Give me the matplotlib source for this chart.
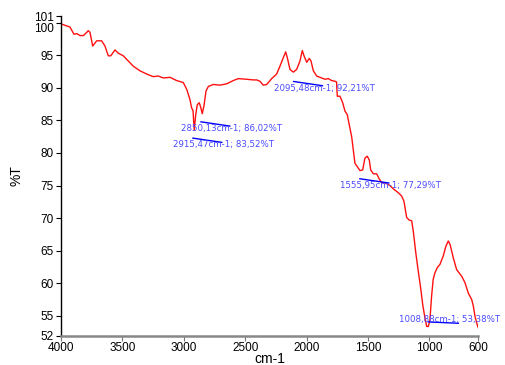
import numpy as np
import matplotlib
matplotlib.use('Agg')
import matplotlib.pyplot as plt

# IR spectrum, wavenumber (cm-1) vs transmittance (%T)
wavenumber = [4000, 3927, 3894, 3870, 3845, 3818, 3790, 3778, 3764, 3742,
              3709, 3669, 3642, 3615, 3595, 3560, 3533, 3493, 3452, 3411,
              3357, 3302, 3248, 3208, 3167, 3112, 3058, 3004, 2976, 2950,
              2936, 2925, 2915, 2902, 2890, 2874, 2862, 2850, 2836, 2819,
              2800, 2760, 2705, 2651, 2597, 2556, 2488, 2434, 2407, 2380,
              2353, 2325, 2284, 2244, 2217, 2190, 2170, 2157, 2135, 2108,
              2081, 2054, 2035, 2021, 1999, 1978, 1964, 1945, 1918, 1877,
              1850, 1823, 1796, 1769, 1756, 1750, 1728, 1706, 1687, 1669,
              1652, 1633, 1620, 1606, 1587, 1565, 1543, 1525, 1506, 1489,
              1478, 1456, 1429, 1408, 1389, 1348, 1321, 1294, 1253, 1226,
              1207, 1185, 1164, 1144, 1131, 1112, 1090, 1071, 1054, 1036,
              1022, 1009, 996, 982, 969, 955, 936, 914, 887, 865,
              846, 832, 805, 778, 737, 710, 683, 655, 642, 628,
              614, 606, 600]
transmittance = [99.8, 99.3, 98.2, 98.3, 98.0, 98.0, 98.5, 98.75, 98.5, 96.4,
                 97.2, 97.2, 96.4, 94.9, 94.9, 95.8, 95.3, 94.9, 94.1, 93.3,
                 92.6, 92.1, 91.7, 91.8, 91.5, 91.6, 91.1, 90.8, 89.75, 88.2,
                 86.9, 86.5, 83.52, 86.0, 87.4, 87.7, 87.0, 86.02, 87.2, 89.5,
                 90.2, 90.5, 90.4, 90.6, 91.1, 91.4, 91.3, 91.2, 91.2, 91.0,
                 90.4, 90.5, 91.4, 92.1, 93.3, 94.6, 95.5, 94.6, 92.8, 92.4,
                 92.8, 94.1, 95.7, 94.9, 93.9, 94.5, 94.1, 92.6, 91.8, 91.5,
                 91.3, 91.4, 91.1, 91.0, 90.9, 88.7, 88.7, 87.7, 86.4, 85.9,
                 84.3, 82.5, 80.5, 78.4, 77.9, 77.29, 77.4, 79.2, 79.5, 78.9,
                 77.4, 76.8, 76.8, 76.0, 75.5, 75.3, 75.0, 74.5, 73.9, 73.4,
                 72.6, 70.1, 69.7, 69.6, 68.0, 64.9, 61.8, 59.3, 56.7, 54.7,
                 53.4, 53.38, 54.3, 58.0, 60.6, 61.6, 62.4, 62.9, 64.2, 65.7,
                 66.5, 66.0, 63.9, 62.1, 61.1, 60.1, 58.5, 57.5, 56.5, 54.9,
                 53.9, 53.4, 53.1]

# picked peaks
peak_wn = [2915.47, 2850.13, 2095.48, 1555.95, 1008.88]
peak_t = [83.52, 86.02, 92.21, 77.29, 53.38]

x_ticks = [4000, 3500, 3000, 2500, 2000, 1500, 1000, 600]
y_ticks = [52, 55, 60, 65, 70, 75, 80, 85, 90, 95, 100, 101]

plt.rcParams['font.family'] = ['Liberation Sans', 'DejaVu Sans']

fig = plt.figure(figsize=(5.05, 3.65), dpi=100)
ax = fig.add_axes([0.1208, 0.0808, 0.8267, 0.8753])

ax.plot(wavenumber, transmittance, color='#ff1010', lw=1.0)

for wn, t in zip(peak_wn, peak_t):
  label = '{:.2f}cm-1; {:.2f}%T'.format(wn, t).replace('.', ',')
  if t < 55:
    # near the floor: put the marker above the peak
    x0, y0, x1, y1, ty = wn, t + 0.7, wn - 245, t + 0.5, t + 1.0
    tx, ha = wn + 235, 'left'
  else:
    x0, y0, x1, y1, ty = wn + 10, t - 1.25, wn - 225, t - 1.9, t - 2.3
    tx, ha = wn - 240, 'center'
  ax.plot([x0, x1], [y0, y1], color='#0000ff', lw=1.0)
  ax.text(tx, ty, label, color='#4a4aff', fontsize=6.2, ha=ha, va='center',
          family='DejaVu Sans', clip_on=False)

ax.set_xlim(4000, 600)
ax.set_ylim(52, 101)
ax.set_xticks(x_ticks)
ax.set_yticks(y_ticks)
ax.tick_params(axis='both', labelsize=8.5, length=3.5, pad=1.5)
ax.tick_params(axis='x', colors='#777777', labelcolor='black')

# stop the 100 label from sitting on top of 101
for lbl in ax.get_yticklabels():
  if lbl.get_text() == '100':
    lbl.set_verticalalignment('top')

for side in ['top', 'right']:
  ax.spines[side].set_visible(False)
ax.spines['bottom'].set_color('#888888')
ax.spines['bottom'].set_linewidth(1.8)
ax.spines['left'].set_linewidth(1.0)

ax.set_xlabel('cm-1', fontsize=10, labelpad=-2)
ax.set_ylabel('%T', fontsize=10, labelpad=8)

fig.savefig('out.png', dpi=100)
